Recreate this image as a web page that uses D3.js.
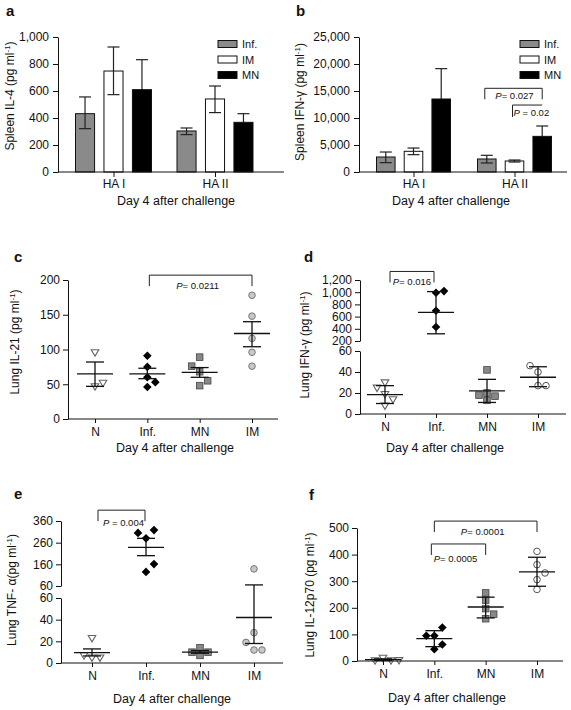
<!DOCTYPE html>
<html><head><meta charset="utf-8">
<script src="https://cdn.jsdelivr.net/npm/d3@7"></script>
<style>
body{margin:0;background:#fff}
svg text{font-family:"Liberation Sans Narrow","Arial Narrow","Liberation Sans",Arial,sans-serif;fill:#111}
</style></head><body>
<svg id="c" width="571" height="710"></svg>
<script>
// ---------- DATA ----------
const barGroups = ["HA I", "HA II"];
const barSeries = ["Inf.", "IM", "MN"];
// panel a: Spleen IL-4 (per group: Inf., IM, MN)
const aMeans = [[432, 748, 610], [304, 541, 368]];
const aLow   = [[321, 573, 390], [277, 440, 304]];
const aHigh  = [[556, 926, 832], [326, 637, 432]];
// panel b: Spleen IFN-y
const bMeans = [[2780, 3830, 13520], [2410, 2040, 6600]];
const bLow   = [[1730, 3210, 7900], [1670, 1850, 4700]];
const bHigh  = [[3700, 4440, 19140], [3090, 2220, 8520]];
const bBrackets = [{from: [1, 0], to: [1, 2], label: "= 0.027"}, {from: [1, 1], to: [1, 2], label: " = 0.02"}];

const scatterGroups = ["N", "Inf.", "MN", "IM"];
// panel c: Lung IL-21
const cN = [96, 47, 52], cInf = [91, 75, 60, 46, 53], cMN = [89, 68, 48, 55, 76], cIM = [178, 148, 116, 96, 76];
const cMean = [65, 65, 67, 123], cLow = [47, 58, 60, 104], cHigh = [82, 73, 74, 140];
const cBrackets = [{from: "Inf.", to: "IM", label: "= 0.0211"}];
// panel d: Lung IFN-y (broken axis)
const dN = [30, 19, 8, 14, 25], dInf = [991, 697, 430, 1018], dMN = [42, 20, 13, 17, 18], dIM = [40, 27, 27, 46];
const dMean = [18.5, 670, 22, 35], dLow = [10, 318, 11, 26], dHigh = [27, 1010, 33, 45];
const dBrackets = [{from: "N", to: "Inf.", label: "= 0.016"}];
// panel e: Lung TNF-a (broken axis)
const eN = [23, 5, 5, 7], eInf = [280, 318, 305, 125, 161], eMN = [14, 7, 10, 10], eIM = [139, 28, 12, 12, 19];
const eMean = [9.5, 238, 10, 42], eLow = [6.5, 200, 9, 18], eHigh = [13, 280, 11.5, 65];
const eBrackets = [{from: "N", to: "Inf.", label: " = 0.004"}];
// panel f: Lung IL-12p70
const fN = [12, 2, 2, 3], fInf = [95, 44, 62, 95, 126], fMN = [256, 229, 197, 159, 176], fIM = [412, 362, 306, 269, 331];
const fMean = [5, 84, 203, 335], fLow = [2, 54, 162, 281], fHigh = [8, 114, 240, 390];
const fBrackets = [{from: "Inf.", to: "IM", label: "= 0.0001"}, {from: "Inf.", to: "MN", label: "= 0.0005"}];

const xTitle = "Day 4 after challenge";
// ---------- DRAW ----------
const svg = d3.select("#c");
svg.append("rect").attr("width", 571).attr("height", 710).attr("fill", "#fff");
const fmt = d3.format(",");
const barFill = {"Inf.": "#8a8a8a", "IM": "#ffffff", "MN": "#000000"};

function panelLetter(x, y, t) {
  svg.append("text").attr("x", x).attr("y", y).text(t)
    .style("font-family", "'Liberation Sans',Arial,sans-serif").style("font-weight", "bold").style("font-size", "15px");
}
function yLabel(x, y, main) {
  const t = svg.append("text").attr("transform", `translate(${x},${y}) rotate(-90)`)
    .attr("text-anchor", "middle").style("font-size", "12px");
  t.append("tspan").text(main + "(pg ml");
  t.append("tspan").attr("dy", -4).style("font-size", "8px").text("-1");
  t.append("tspan").attr("dy", 4).text(")");
}
function xLabel(x, y) {
  svg.append("text").attr("x", x).attr("y", y).attr("text-anchor", "middle").style("font-size", "12.5px").text(xTitle);
}
function pText(x, y, label, anchor) {
  const t = svg.append("text").attr("x", x).attr("y", y).attr("text-anchor", anchor || "middle")
    .style("font-family", "'Liberation Sans',Arial,sans-serif").style("font-size", "9.5px");
  t.append("tspan").style("font-style", "italic").text("P");
  t.append("tspan").text(label);
}
function styleAxis(g) {
  g.selectAll("path,line").attr("stroke", "#111").attr("stroke-width", 1);
  g.selectAll("text").style("font-size", "12px").attr("fill", "#111");
}

function barPanel(o) {
  const x0 = d3.scalePoint().domain(barGroups).range(o.groupRange);
  const x1 = d3.scaleBand().domain(barSeries).range([-o.innerW / 2, o.innerW / 2]).paddingInner(0.33);
  const y = d3.scaleLinear().domain(o.yDomain).range(o.yRange);
  const bw = x1.bandwidth();
  const g = svg.append("g");
  const flat = [];
  barGroups.forEach((gr, gi) => barSeries.forEach((s, si) => flat.push({
    gr, s, v: o.means[gi][si], lo: o.low[gi][si], hi: o.high[gi][si]
  })));
  flat.forEach(d => {
    const cx = x0(d.gr) + x1(d.s) + bw / 2;
    g.append("line").attr("x1", cx).attr("x2", cx).attr("y1", y(d.hi)).attr("y2", y(d.lo)).attr("stroke", "#222").attr("stroke-width", 1.2);
    [d.hi, d.lo].forEach(v => g.append("line").attr("x1", cx - 6).attr("x2", cx + 6).attr("y1", y(v)).attr("y2", y(v)).attr("stroke", "#222").attr("stroke-width", 1.2));
  });
  g.selectAll("rect.bar").data(flat).join("rect").attr("class", "bar")
    .attr("x", d => x0(d.gr) + x1(d.s)).attr("width", bw)
    .attr("y", d => y(d.v)).attr("height", d => y(0) - y(d.v))
    .attr("fill", d => barFill[d.s]).attr("stroke", "#111").attr("stroke-width", 1);
  flat.forEach(d => {
    const cx = x0(d.gr) + x1(d.s) + bw / 2;
    if (d.s !== "MN") {
      g.append("line").attr("x1", cx).attr("x2", cx).attr("y1", y(d.v)).attr("y2", y(d.lo)).attr("stroke", "#222").attr("stroke-width", 1.2);
      g.append("line").attr("x1", cx - 6).attr("x2", cx + 6).attr("y1", y(d.lo)).attr("y2", y(d.lo)).attr("stroke", "#222").attr("stroke-width", 1.2);
    }
  });
  const ya = svg.append("g").attr("transform", `translate(${o.axisX},0)`)
    .call(d3.axisLeft(y).tickValues(o.yTicks).tickFormat(fmt).tickSize(5).tickPadding(4).tickSizeOuter(0));
  styleAxis(ya);
  const xa = svg.append("g").attr("transform", `translate(0,${y(0)})`)
    .call(d3.axisBottom(x0).tickSize(5).tickPadding(2).tickSizeOuter(0));
  xa.select(".domain").remove();
  xa.append("line").attr("x1", o.axisX).attr("x2", o.xEnd).attr("stroke", "#111");
  styleAxis(xa);
  barSeries.forEach((s, i) => {
    const ly = o.legendY + i * 15.5;
    svg.append("rect").attr("x", o.legendX).attr("y", ly - 3.5).attr("width", 19).attr("height", 7)
      .attr("fill", barFill[s]).attr("stroke", "#111");
    svg.append("text").attr("x", o.legendX + 24).attr("y", ly + 4).style("font-size", "11px").text(s);
  });
  return {x0, x1, y, bw};
}

const markers = {
  tri: {thr: 7, draw: (g, x, y) => g.append("path").attr("d", `M${x - 3.8},${y - 2.6}L${x + 3.8},${y - 2.6}L${x},${y + 3.8}Z`).attr("fill", "#fff").attr("stroke", "#666").attr("stroke-width", 1.1)},
  dia: {thr: 9, draw: (g, x, y) => g.append("path").attr("d", `M${x},${y - 4.3}L${x + 4.3},${y}L${x},${y + 4.3}L${x - 4.3},${y}Z`).attr("fill", "#000")},
  sq: {thr: 7, draw: (g, x, y) => g.append("rect").attr("x", x - 3.3).attr("y", y - 3.3).attr("width", 6.6).attr("height", 6.6).attr("fill", "#888").attr("stroke", "#444").attr("stroke-width", 0.8)},
  cirG: {thr: 8, draw: (g, x, y) => g.append("circle").attr("cx", x).attr("cy", y).attr("r", 3.3).attr("fill", "#c8c8c8").attr("stroke", "#777").attr("stroke-width", 1)},
  cirW: {thr: 8, draw: (g, x, y) => g.append("circle").attr("cx", x).attr("cy", y).attr("r", 3.3).attr("fill", "#fff").attr("stroke", "#555").attr("stroke-width", 1)}
};

function swarm(vals, cx, y, step, thr) {
  const placed = [];
  return vals.map(v => {
    const py = y(v);
    const collide = k => placed.some(p => p.k === k && Math.abs(p.py - py) < thr);
    let k = 0;
    if (collide(0)) {
      const near = s => { const d = placed.filter(p => Math.sign(p.k) === s).map(p => Math.abs(p.py - py)); return d.length ? d3.min(d) : Infinity; };
      const s = near(1) >= near(-1) ? 1 : -1;
      k = [s, -s, 2 * s, -2 * s, 3 * s, -3 * s].find(c => !collide(c));
    }
    placed.push({k, py});
    return {x: cx + k * step, y: py};
  });
}

function scatterPanel(o) {
  const x = d3.scalePoint().domain(scatterGroups).range(o.xRange);
  const yLow = d3.scaleLinear().domain(o.lowDomain).range(o.lowRange);
  const yUp = o.upDomain ? d3.scaleLinear().domain(o.upDomain).range(o.upRange) : null;
  const y = v => {
    if (!yUp || v <= o.lowDomain[1]) return yLow(v);
    if (v >= o.upDomain[0]) return yUp(v);
    const t = (v - o.lowDomain[1]) / (o.upDomain[0] - o.lowDomain[1]);
    return yLow(o.lowDomain[1]) + t * (yUp(o.upDomain[0]) - yLow(o.lowDomain[1]));
  };
  const g = svg.append("g");
  o.points.forEach((vals, i) => {
    const m = markers[o.markers[i]];
    swarm(vals, x(scatterGroups[i]), y, 8, m.thr).forEach(p => m.draw(g, p.x, p.y));
  });
  scatterGroups.forEach((grp, i) => {
    const cx = x(grp);
    g.append("line").attr("x1", cx - 18).attr("x2", cx + 18).attr("y1", y(o.mean[i])).attr("y2", y(o.mean[i])).attr("stroke", "#111").attr("stroke-width", 1.3);
    g.append("line").attr("x1", cx).attr("x2", cx).attr("y1", y(o.high[i])).attr("y2", y(o.low[i])).attr("stroke", "#111").attr("stroke-width", 1.3);
    [o.high[i], o.low[i]].forEach(v => g.append("line").attr("x1", cx - 9).attr("x2", cx + 9).attr("y1", y(v)).attr("y2", y(v)).attr("stroke", "#111").attr("stroke-width", 1.3));
  });
  const a1 = svg.append("g").attr("transform", `translate(${o.axisX},0)`)
    .call(d3.axisLeft(yLow).tickValues(o.lowTicks).tickFormat(fmt).tickSize(5).tickPadding(3).tickSizeOuter(0));
  styleAxis(a1);
  if (yUp) {
    const a2 = svg.append("g").attr("transform", `translate(${o.axisX},0)`)
      .call(d3.axisLeft(yUp).tickValues(o.upTicks).tickFormat(fmt).tickSize(5).tickPadding(3).tickSizeOuter(0));
    styleAxis(a2);
  }
  const xa = svg.append("g").attr("transform", `translate(0,${yLow(0)})`)
    .call(d3.axisBottom(x).tickSize(4).tickPadding(4).tickSizeOuter(0));
  xa.select(".domain").remove();
  xa.append("line").attr("x1", o.axisX).attr("x2", o.xEnd).attr("stroke", "#111");
  styleAxis(xa);
  o.brackets.forEach((b, i) => {
    const L = o.bracketLayout[i];
    const x1 = x(b.from) + L.dx1, x2 = x(b.to) + L.dx2, yy = y(L.level);
    svg.append("path").attr("d", `M${x1},${yy + 11}V${yy}H${x2}V${yy + 11}`).attr("fill", "none").attr("stroke", "#222").attr("stroke-width", 1);
    pText((x1 + x2) / 2 + L.tx, yy + L.ty, b.label);
  });
}

// ----- Panel a -----
panelLetter(6, 16, "a");
barPanel({groupRange: [113.5, 215], innerW: 76, yDomain: [0, 1000], yRange: [172, 37], yTicks: [0, 200, 400, 600, 800, 1000],
  means: aMeans, low: aLow, high: aHigh, axisX: 58, xEnd: 284, legendX: 218, legendY: 44});
yLabel(14, 96, "Spleen IL-4  ");
xLabel(176, 205);

// ----- Panel b -----
panelLetter(296, 16, "b");
const bp = barPanel({groupRange: [413.5, 514.5], innerW: 74, yDomain: [0, 25000], yRange: [172, 37], yTicks: [0, 5000, 10000, 15000, 20000, 25000],
  means: bMeans, low: bLow, high: bHigh, axisX: 359, xEnd: 567, legendX: 520, legendY: 44});
yLabel(304, 102, "Spleen IFN-γ  ");
xLabel(451, 205);
{
  const bl = [{level: 15500, h: 11, ty: 11}, {level: 12400, h: 12, ty: 11}];
  bBrackets.forEach((b, i) => {
    const xa = bp.x0(barGroups[b.from[0]]) + bp.x1(barSeries[b.from[1]]) + bp.bw / 2;
    const xb = bp.x0(barGroups[b.to[0]]) + bp.x1(barSeries[b.to[1]]) + bp.bw / 2;
    const yy = bp.y(bl[i].level);
    if (i === 0) {
      svg.append("path").attr("d", `M${xa - 2},${yy + bl[i].h}V${yy}H${xb}V${yy + bl[i].h}`).attr("fill", "none").attr("stroke", "#222");
      pText((xa + xb) / 2, yy + bl[i].ty, b.label);
    } else {
      svg.append("path").attr("d", `M${xa - 2},${yy + bl[i].h}V${yy}H${xb}`).attr("fill", "none").attr("stroke", "#222");
      pText(xa - 1, yy + bl[i].ty, b.label, "start");
    }
  });
}

// ----- Panel c -----
panelLetter(14, 262, "c");
scatterPanel({xRange: [95, 252], lowDomain: [0, 200], lowRange: [419, 280], lowTicks: [0, 50, 100, 150, 200], axisX: 68, xEnd: 278,
  points: [cN, cInf, cMN, cIM], markers: ["tri", "dia", "sq", "cirG"], mean: cMean, low: cLow, high: cHigh,
  brackets: cBrackets, bracketLayout: [{level: 207, dx1: 2, dx2: 0, tx: -3, ty: 14}]});
yLabel(19, 342, "Lung IL-21  ");
xLabel(175, 452);

// ----- Panel d -----
panelLetter(304, 262, "d");
scatterPanel({xRange: [385, 538], lowDomain: [0, 60], lowRange: [414, 351], lowTicks: [0, 20, 40, 60],
  upDomain: [200, 1200], upRange: [341, 280], upTicks: [200, 400, 600, 800, 1000, 1200], axisX: 360, xEnd: 566,
  points: [dN, dInf, dMN, dIM], markers: ["tri", "dia", "sq", "cirW"], mean: dMean, low: dLow, high: dHigh,
  brackets: dBrackets, bracketLayout: [{level: 1340, dx1: 5, dx2: -2, tx: 0, ty: 14}]});
yLabel(309, 345, "Lung IFN-γ  ");
xLabel(445, 452);

// ----- Panel e -----
panelLetter(14, 499, "e");
scatterPanel({xRange: [92, 254], lowDomain: [0, 60], lowRange: [663, 598], lowTicks: [0, 20, 40, 60],
  upDomain: [60, 360], upRange: [586, 521], upTicks: [60, 160, 260, 360], axisX: 61, xEnd: 283,
  points: [eN, eInf, eMN, eIM], markers: ["tri", "dia", "sq", "cirG"], mean: eMean, low: eLow, high: eHigh,
  brackets: eBrackets, bracketLayout: [{level: 410, dx1: 6, dx2: -1, tx: 2, ty: 16}]});
yLabel(16, 590, "Lung TNF- α");
xLabel(172, 703);

// ----- Panel f -----
panelLetter(309, 500, "f");
scatterPanel({xRange: [383, 537], lowDomain: [0, 500], lowRange: [661, 528], lowTicks: [0, 100, 200, 300, 400, 500], axisX: 357, xEnd: 563,
  points: [fN, fInf, fMN, fIM], markers: ["tri", "dia", "sq", "cirW"], mean: fMean, low: fLow, high: fHigh,
  brackets: fBrackets, bracketLayout: [{level: 526, dx1: 0, dx2: 0, tx: -3, ty: 14}, {level: 440, dx1: -3, dx2: 0, tx: -3, ty: 18}]});
yLabel(314, 595, "Lung IL-12p70  ");
xLabel(447, 702);
</script>
</body></html>
